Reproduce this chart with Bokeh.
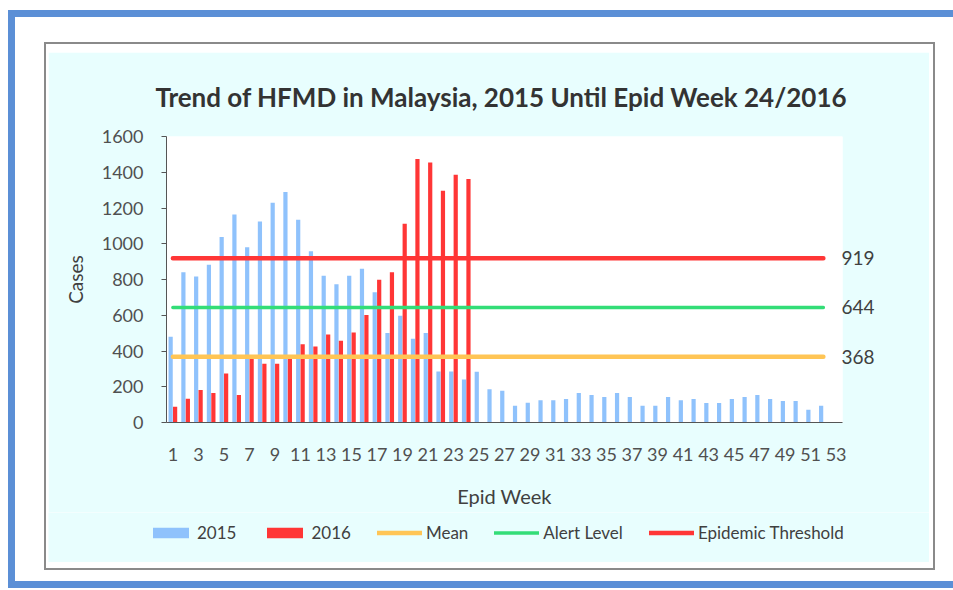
from bokeh.plotting import figure
from bokeh.models import (FixedTicker, LinearAxis, Legend, LegendItem,
                          ColumnDataSource, Range1d)
from bokeh.transform import dodge
from bokeh.layouts import column
from bokeh.embed import file_html
from bokeh.resources import INLINE

# ---------------- data ----------------
weeks = list(range(1, 54))
cases_2015 = [480, 841, 817, 883, 1038, 1164, 980, 1125, 1230, 1290, 1134, 958,
              821, 774, 821, 860, 729, 501, 597, 468, 501, 285, 285, 240, 284,
              186, 178, 94, 111, 124, 124, 131, 165, 154, 143, 165, 143, 94, 94,
              143, 124, 131, 109, 109, 131, 143, 154, 131, 120, 120, 71, 94, 0]
weeks_2016 = list(range(1, 25))
cases_2016 = [88, 133, 182, 165, 274, 154, 355, 329, 329, 355, 438, 425,
              492, 458, 503, 601, 798, 841, 1112, 1474, 1455, 1297, 1386, 1362]
line_weeks = list(range(1, 53))
mean_level = 368
alert_level = 644
epidemic_threshold = 919
y_ticks = [0, 200, 400, 600, 800, 1000, 1200, 1400, 1600]
x_ticks = list(range(1, 54, 2))
title_text = "Trend of HFMD  in Malaysia, 2015 Until Epid Week 24/2016"
legend_labels = ["2015", "2016", "Mean", "Alert Level", "Epidemic Threshold"]

FONT = "Lato"
BLUE = "#8fc2fc"
RED = "#ff3636"
ORANGE = "#ffc555"
GREEN = "#33dd77"
CYAN = "#e8fefe"

src15 = ColumnDataSource(dict(week=weeks, cases=cases_2015))
src16 = ColumnDataSource(dict(week=weeks_2016, cases=cases_2016))
src_lines = ColumnDataSource(dict(
    week=line_weeks,
    mean=[mean_level] * len(line_weeks),
    alert=[alert_level] * len(line_weeks),
    thr=[epidemic_threshold] * len(line_weeks),
))

p = figure(width=881, height=460,
           x_range=Range1d(0.5, 53.5), y_range=Range1d(0, 1600),
           output_backend="svg", toolbar_location=None,
           min_border_left=118, min_border_right=87,
           min_border_top=84, min_border_bottom=90,
           background_fill_color="white", border_fill_color=CYAN,
           outline_line_color=None)
p.frame_align = False

p.title.text = title_text
p.title.align = "center"
p.title.text_font = FONT
p.title.text_font_style = "bold"
p.title.text_font_size = "26px"
p.title.text_color = "#333333"
p.title.standoff = 47

p.xgrid.visible = False
p.ygrid.visible = False

bar_style_15 = dict(fill_color=BLUE, line_color=None)
bar_style_16 = dict(fill_color=RED, line_color=None)
mean_style = dict(line_color=ORANGE, line_width=4.5, line_cap="round")
alert_style = dict(line_color=GREEN, line_width=3.5, line_cap="round")
thr_style = dict(line_color=RED, line_width=4.5, line_cap="round")

p.vbar(x=dodge("week", -0.175, range=p.x_range), top="cases", width=0.33,
       source=src15, **bar_style_15)
p.vbar(x=dodge("week", 0.175, range=p.x_range), top="cases", width=0.33,
       source=src16, **bar_style_16)
p.line("week", "mean", source=src_lines, **mean_style)
p.line("week", "alert", source=src_lines, **alert_style)
p.line("week", "thr", source=src_lines, **thr_style)

# y axis
yax = p.yaxis[0]
yax.ticker = FixedTicker(ticks=y_ticks)
yax.axis_label = "Cases"
yax.axis_label_text_font = FONT
yax.axis_label_text_font_size = "19px"
yax.axis_label_text_font_style = "normal"
yax.axis_label_text_color = "#404040"
yax.axis_label_standoff = 12
yax.major_label_text_font = FONT
yax.major_label_text_font_size = "18px"
yax.major_label_text_color = "#505050"
yax.major_label_standoff = 18
yax.axis_line_color = "#555555"
yax.major_tick_line_color = "#555555"
yax.major_tick_out = 5
yax.major_tick_in = 0
yax.minor_tick_line_color = None

# x axis
xax = p.xaxis[0]
xax.ticker = FixedTicker(ticks=x_ticks)
xax.axis_label = "Epid Week"
xax.axis_label_text_font = FONT
xax.axis_label_text_font_size = "20px"
xax.axis_label_text_font_style = "normal"
xax.axis_label_text_color = "#404040"
xax.axis_label_standoff = 20
xax.major_label_text_font = FONT
xax.major_label_text_font_size = "18px"
xax.major_label_text_color = "#505050"
xax.major_label_standoff = 19
xax.axis_line_color = "#555555"
xax.major_tick_line_color = None
xax.minor_tick_line_color = None

# right axis with level values
rax = LinearAxis(ticker=FixedTicker(ticks=[mean_level, alert_level, epidemic_threshold]))
rax.axis_line_color = None
rax.major_tick_line_color = None
rax.minor_tick_line_color = None
rax.major_label_text_font = FONT
rax.major_label_text_font_size = "19px"
rax.major_label_text_color = "#404040"
rax.major_label_standoff = -7
p.add_layout(rax, "right")

# legend strip: a small figure that reuses the same sources, with ranges
# beyond the data so that its glyphs stay out of view; only its legend shows
leg = figure(width=881, height=50, x_range=Range1d(60, 120),
             y_range=Range1d(2000, 3000),
             output_backend="svg", toolbar_location=None,
             x_axis_type=None, y_axis_type=None, min_border=0,
             min_border_left=0, min_border_right=0,
             min_border_top=0, min_border_bottom=0,
             background_fill_color=CYAN, border_fill_color=CYAN,
             outline_line_color=None)
leg.frame_align = False
leg.xgrid.visible = False
leg.ygrid.visible = False
lr15 = leg.vbar(x="week", top="cases", width=0.33, source=src15, **bar_style_15)
lr16 = leg.vbar(x="week", top="cases", width=0.33, source=src16, **bar_style_16)
lrm = leg.line("week", "mean", source=src_lines, **mean_style)
lra = leg.line("week", "alert", source=src_lines, **alert_style)
lrt = leg.line("week", "thr", source=src_lines, **thr_style)
legend = Legend(items=[LegendItem(label=lab, renderers=[r]) for lab, r in
                       zip(legend_labels, [lr15, lr16, lrm, lra, lrt])],
                orientation="horizontal", location=(96, 15),
                glyph_width=45, glyph_height=13, label_standoff=4, spacing=26,
                label_text_font=FONT, label_text_font_size="17px",
                label_text_color="#404040",
                background_fill_alpha=0, border_line_alpha=0, margin=0, padding=4)
leg.add_layout(legend)

p.margin = (8, 4, 0, 2)
leg.margin = (0, 4, 6, 2)
inner = column(p, leg, styles={"border": "2px solid #8a8a8a",
                               "background-color": "white"})
inner.margin = (25, 18, 11, 29)
outer = column(inner, styles={"border-left": "7px solid #5b8fd6",
                              "border-top": "7px solid #5b8fd6",
                              "border-bottom": "7px solid #5b8fd6",
                              "background-color": "white"})
outer.margin = (10, 0, 0, 8)

open("out.html", "w").write(file_html(outer, INLINE))
